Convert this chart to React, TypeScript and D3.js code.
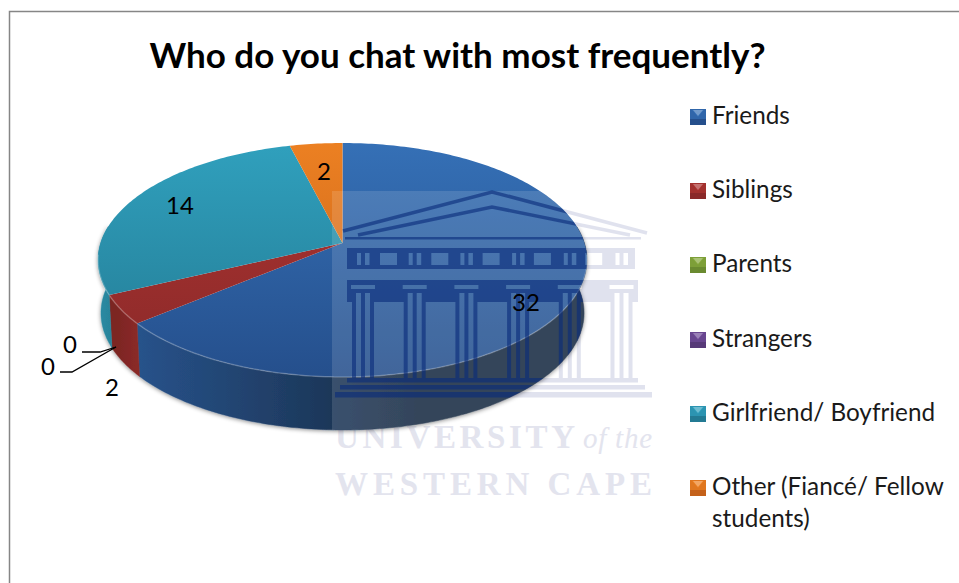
import React from "react";
import * as d3 from "d3";

const categories = ["Friends", "Siblings", "Parents", "Strangers", "Girlfriend/ Boyfriend", "Other (Fiancé/ Fellow students)"];
const values = [32, 2, 0, 0, 14, 2];
const lightColors = ["#3570b6", "#ad3431", "#86a83c", "#6f4b98", "#30a0bd", "#ec8022"];
const darkColors = ["#254f8c", "#8a2929", "#6a8a30", "#573a78", "#237a93", "#c4611a"];
const wallLeft = ["#27528a", "#7b2523", "#5f7a2b", "#4c3369", "#2a8aa3", "#a85416"];
const wallRight = ["#182a42", "#8f2b29", "#5f7a2b", "#4c3369", "#22707f", "#a85416"];
const legendRows = [116, 190, 264, 339, 413, 487];
const labelAt: [number, number][] = [[526, 302], [112, 387], [48, 366], [70, 344], [180, 205], [324, 171]];

const FONT = "Lato, 'Open Sans', sans-serif";
const SERIF = "'Liberation Serif', serif";

// Perspective view of a tilted disc: the far rim is foreshortened, the near rim enlarged.
const CX = 342.5;
const RADIUS = 241.9;
const TILT = -0.1453;
const Y_SCALE = 79.2;
const Y_CENTER = 243;
const DEPTH = 53;
const BASE_SHRINK = 0.988;

const project = (angle: number, r = 1, drop = 0): [number, number] => {
  const u = -Math.cos(angle) * r;
  const v = Math.sin(angle) * r;
  const w = 1 + TILT * u;
  const shrink = drop ? BASE_SHRINK : 1;
  return [CX + (RADIUS * shrink * v) / w, (Y_SCALE * u + Y_CENTER) / w + drop];
};

const arcSamples = (a0: number, a1: number, drop = 0) => {
  const n = Math.max(2, Math.ceil((Math.abs(a1 - a0) * 180) / Math.PI));
  return d3.range(n + 1).map((i) => project(a0 + ((a1 - a0) * i) / n, 1, drop));
};

const line = d3.line<[number, number]>();
const slices = d3.pie<number>().sort(null)(values);
const gid = (kind: string, i: number) => `${kind}-${i}`;

const WALL_FROM = Math.PI / 2 - 0.15;
const WALL_TO = (3 * Math.PI) / 2 + 0.15;
const discOutline = line(arcSamples(0, 2 * Math.PI))! + "Z";
const pieBody = line([...arcSamples(WALL_FROM, WALL_TO), ...arcSamples(WALL_TO, WALL_FROM, DEPTH)])! + "Z";

const columnXs = d3.range(6).map((i) => 352 + i * 51.7);
const metopeXs = d3.range(5).map((i) => 380 + i * 51.3);

// University crest as a stencil: white is ink, black knocks out the gaps.
const TempleStencil = () => (
  <g>
    <g fill="none" stroke="#fff" strokeWidth={3.6}>
      <path d="M343 231L492 192L647 233" />
      <path d="M358 235L492 207L630 235" />
    </g>
    <rect x={345} y={237} width={296} height={2.5} fill="#fff" />
    <rect x={347} y={248} width={288} height={21} fill="#fff" />
    {metopeXs.map((x) => (
      <rect key={x} x={x} y={253} width={17} height={12} fill="#000" />
    ))}
    {columnXs.map((x) => (
      <g key={x} fill="#000">
        <rect x={x + 5} y={253} width={4} height={12} />
        <rect x={x + 13} y={253} width={4.5} height={12} />
      </g>
    ))}
    <rect x={347} y={280} width={291} height={22} fill="#fff" />
    {columnXs.map((x) => (
      <g key={x}>
        <rect x={x - 1} y={285} width={24} height={4} fill="#000" />
        <rect x={x} y={293} width={22} height={85} fill="#fff" />
        <rect x={x + 4} y={293} width={5} height={85} fill="#000" />
        <rect x={x + 13} y={293} width={5} height={85} fill="#000" />
      </g>
    ))}
    <rect x={347} y={378} width={291} height={4.5} fill="#fff" />
    <rect x={340} y={385} width={305} height={4.5} fill="#fff" />
    <rect x={335} y={392} width={317} height={5.5} fill="#fff" />
  </g>
);

export default function App() {
  return (
    <svg
      width={959}
      height={583}
      style={{ position: "absolute", left: 0, top: 0, background: "#fff", fontFamily: FONT }}
    >
      <defs>
        {categories.map((_, i) => (
          <React.Fragment key={i}>
            <linearGradient id={gid("top", i)} gradientUnits="userSpaceOnUse" x1={0} x2={0} y1={143} y2={377}>
              <stop offset="0" stopColor={lightColors[i]} />
              <stop offset="1" stopColor={darkColors[i]} />
            </linearGradient>
            <linearGradient id={gid("wall", i)} gradientUnits="userSpaceOnUse" x1={i === 0 ? 140 : i === 1 ? 115 : 100} x2={i === 0 ? 420 : 145} y1={0} y2={0}>
              <stop offset="0" stopColor={wallLeft[i]} />
              <stop offset="1" stopColor={wallRight[i]} />
            </linearGradient>
          </React.Fragment>
        ))}
        <clipPath id="pie-clip">
          <path d={discOutline} />
          <path d={pieBody} />
        </clipPath>
        <mask id="temple-mask" maskUnits="userSpaceOnUse" x={330} y={185} width={325} height={220}>
          <rect x={330} y={185} width={325} height={220} fill="#000" />
          <TempleStencil />
        </mask>
        <filter id="soft-shadow" x="-5%" y="-5%" width="110%" height="115%">
          <feDropShadow dx={0} dy={1} stdDeviation={2} floodColor="#000" floodOpacity={0.45} />
        </filter>
      </defs>

      {/* frame */}
      <path d="M9.5 583V11.5H959" fill="none" stroke="#868686" strokeWidth={1.5} />

      <text x={457.5} y={68} textAnchor="middle" fontSize={35} fontWeight={700} fill="#000">
        Who do you chat with most frequently?
      </text>

      {/* crest on bare paper, pale; the pie covers whatever it overlaps */}
      <rect x={330} y={185} width={325} height={220} fill="#e0e2ee" mask="url(#temple-mask)" />
      <g fill="#e3e4ee" fontFamily={SERIF} fontWeight={700}>
        <text x={335} y={448} fontSize={33} textLength={240} lengthAdjust="spacing">UNIVERSITY</text>
        <text x={583} y={448} fontSize={29} fontStyle="italic" fontWeight={400} textLength={69} lengthAdjust="spacing">of the</text>
        <text x={335} y={495} fontSize={33} textLength={317} lengthAdjust="spacing">WESTERN CAPE</text>
      </g>

      {/* side wall, drawn before the top face */}
      <g filter="url(#soft-shadow)">
        {slices.map((s, i) => {
          const a0 = Math.max(s.startAngle, WALL_FROM);
          const a1 = Math.min(s.endAngle, WALL_TO);
          if (a1 <= a0) return null;
          const d = line([...arcSamples(a0, a1), ...arcSamples(a1, a0, DEPTH)])! + "Z";
          return <path key={i} d={d} fill={`url(#${gid("wall", i)})`} stroke={`url(#${gid("wall", i)})`} strokeWidth={0.4} />;
        })}
      </g>

      {/* top face */}
      {slices.map((s, i) => {
        if (s.endAngle === s.startAngle) return null;
        const d = line([[CX, Y_CENTER], ...arcSamples(s.startAngle, s.endAngle)])! + "Z";
        return <path key={i} d={d} fill={`url(#${gid("top", i)})`} />;
      })}
      <path
        d={line(arcSamples(Math.PI / 2 + 0.1, (3 * Math.PI) / 2 - 0.1))!}
        fill="none"
        stroke="#fff"
        strokeOpacity={0.22}
        strokeWidth={1.5}
      />

      {/* crest where it crosses the pie: a light veil with darker ink */}
      <g clipPath="url(#pie-clip)">
        <rect x={332} y={191} width={320} height={306} fill="#fff" fillOpacity={0.13} />
        <rect x={330} y={185} width={325} height={220} fill="#0a2c7a" fillOpacity={0.62} mask="url(#temple-mask)" />
      </g>

      {/* value labels and leader lines */}
      <g fill="none" stroke="#000" strokeWidth={1.3}>
        <path d="M82 352H100L116 347" />
        <path d="M60 372H72L116 347" />
      </g>
      {values.map((v, i) => (
        <text key={i} x={labelAt[i][0]} y={labelAt[i][1]} dy="0.36em" textAnchor="middle" fontSize={24} fill="#000">
          {v}
        </text>
      ))}

      {/* legend */}
      {categories.map((c, i) => {
        const y = legendRows[i];
        const x0 = 690;
        const y0 = y - 7;
        const lines = i === 5 ? ["Other (Fiancé/ Fellow", "students)"] : [c];
        return (
          <g key={c}>
            <rect x={x0} y={y0} width={16} height={16} fill={darkColors[i]} />
            <rect x={x0} y={y0} width={16} height={10} fill={lightColors[i]} fillOpacity={0.7} />
            <path d={`M${x0 + 2} ${y0 + 1}H${x0 + 14}L${x0 + 8} ${y0 + 8}Z`} fill={lightColors[i]} />
            <path d={`M${x0 + 3} ${y0 + 1}H${x0 + 13}L${x0 + 8} ${y0 + 7}Z`} fill="#fff" fillOpacity={0.3} />
            {lines.map((t, k) => (
              <text key={k} x={712} y={y + 8 + k * 32} fontSize={24.3} fill="#1a1a1a">
                {t}
              </text>
            ))}
          </g>
        );
      })}
    </svg>
  );
}
